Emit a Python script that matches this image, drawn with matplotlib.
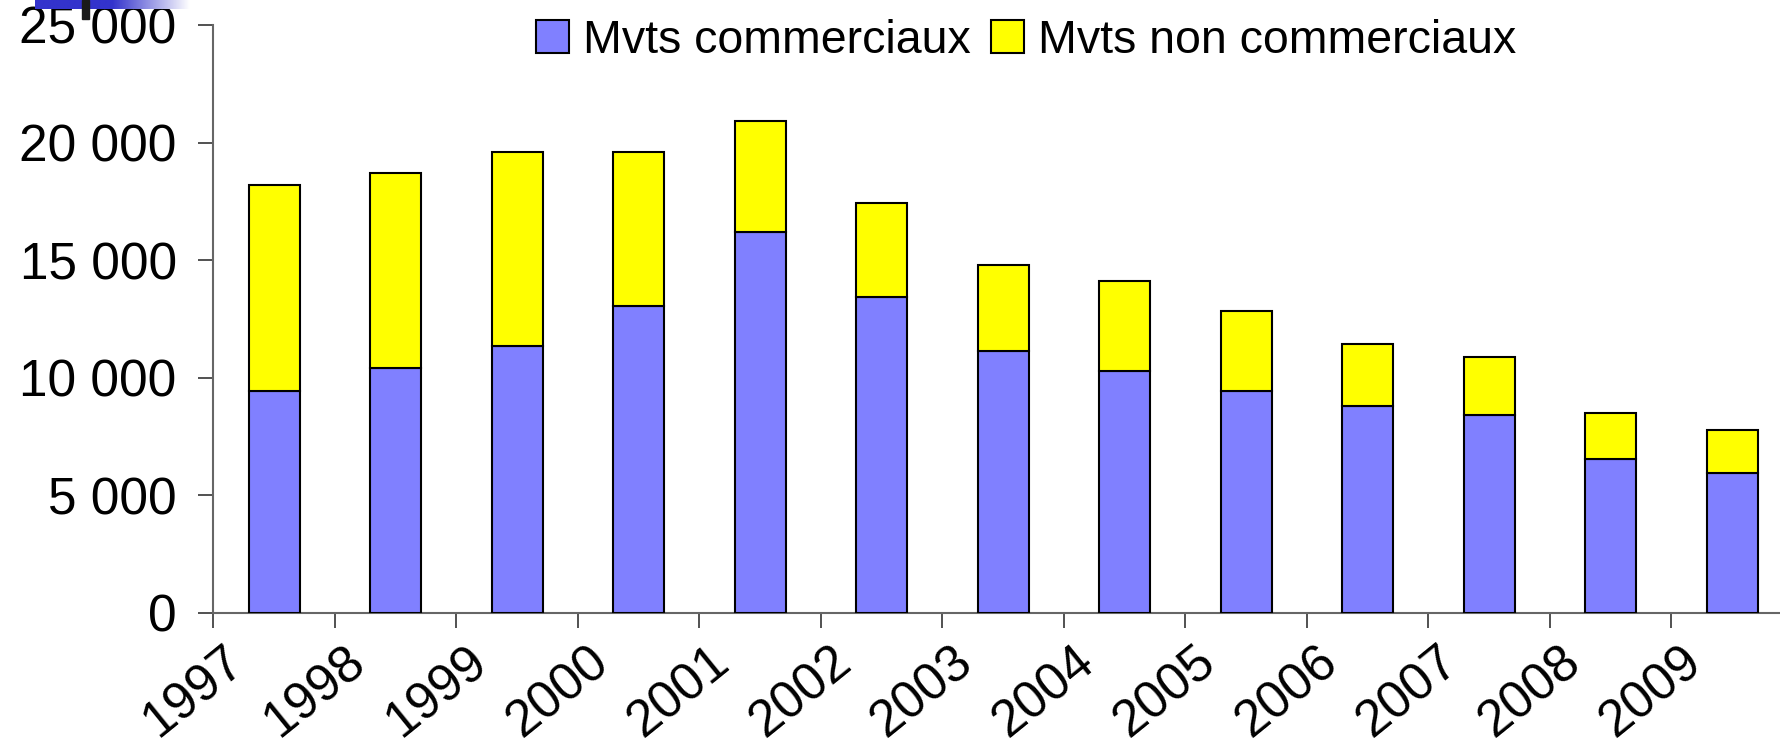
import matplotlib
matplotlib.use("Agg")
import matplotlib.pyplot as plt
import numpy as np
from matplotlib.patches import Rectangle
from matplotlib.transforms import ScaledTranslation

years = ["1997", "1998", "1999", "2000", "2001", "2002", "2003",
         "2004", "2005", "2006", "2007", "2008", "2009"]
commerciaux = [9450, 10400, 11350, 13050, 16200, 13450, 11150,
               10300, 9450, 8800, 8400, 6550, 5950]
totals = [18200, 18700, 19600, 19600, 20900, 17450, 14800,
          14100, 12850, 11450, 10900, 8500, 7800]
non_commerciaux = [t - c for t, c in zip(totals, commerciaux)]
ytick_values = [0, 5000, 10000, 15000, 20000, 25000]
ytick_labels = ["0", "5 000", "10 000", "15 000", "20 000", "25 000"]
series_names = ["Mvts commerciaux", "Mvts non commerciaux"]

plt.rcParams['font.family'] = ['Liberation Sans', 'DejaVu Sans']

W, H = 1781, 752
fig = plt.figure(figsize=(W / 100, H / 100), dpi=100)
ax = fig.add_axes([213.5 / W, (H - 613) / H, (1793 - 213.5) / W, (613 - 25) / H])

x = np.arange(len(years)) + 0.5
bw = 0.42
ax.bar(x, commerciaux, bw, color="#8080FF", edgecolor="black", linewidth=1.5,
       label=series_names[0], zorder=3)
ax.bar(x, non_commerciaux, bw, bottom=commerciaux, color="#FFFF00",
       edgecolor="black", linewidth=1.5, label=series_names[1], zorder=3)

ax.set_xlim(0, len(years))
ax.set_ylim(0, 25000)
ax.set_yticks(ytick_values)
ax.set_yticklabels(ytick_labels, fontsize=37)
ax.set_xticks(np.arange(len(years)))
ax.set_xticklabels(years, fontsize=37, rotation=39, ha="right", va="top",
                   rotation_mode="anchor")
for s in ["top", "right"]:
    ax.spines[s].set_visible(False)
for s in ["left", "bottom"]:
    ax.spines[s].set_color("#666666")
    ax.spines[s].set_linewidth(1.5)
ax.tick_params(axis="both", direction="out", length=10.5, width=1.2, color="#333333")
ax.tick_params(axis="y", pad=16)
ax.tick_params(axis="x", pad=7)
offset = ScaledTranslation(0.09, 0, fig.dpi_scale_trans)
for lab in ax.get_xticklabels():
    lab.set_transform(lab.get_transform() + offset)

leg = ax.legend(loc="center", bbox_to_anchor=(1026 / W, (H - 41) / H),
                bbox_transform=fig.transFigure, ncol=2, frameon=False,
                fontsize=33.5, handlelength=0.7, handleheight=0.7,
                handletextpad=0.3, columnspacing=0.45, borderpad=0)

# decorative header band (top-left)
grad_ax = fig.add_axes([35 / W, (H - 9.3) / H, (190 - 35) / W, 9.3 / H])
n = 200
t = np.linspace(0, 1, n)
start = 0.5
alpha = np.clip(1 - (t - start) / (1 - start), 0, 1)
base = np.array([0x33, 0x33, 0xCC]) / 255
rgb = np.ones((1, n, 3))
for k in range(3):
    rgb[0, :, k] = base[k] * alpha + (1 - alpha)
grad_ax.imshow(rgb, aspect="auto", extent=[0, 1, 0, 1])
grad_ax.axis("off")
fig.patches.append(Rectangle((82 / W, (H - 19) / H), 7 / W, 19 / H,
                             transform=fig.transFigure, color="#1a1a1a",
                             zorder=10))

fig.savefig("out.png", dpi=100)
